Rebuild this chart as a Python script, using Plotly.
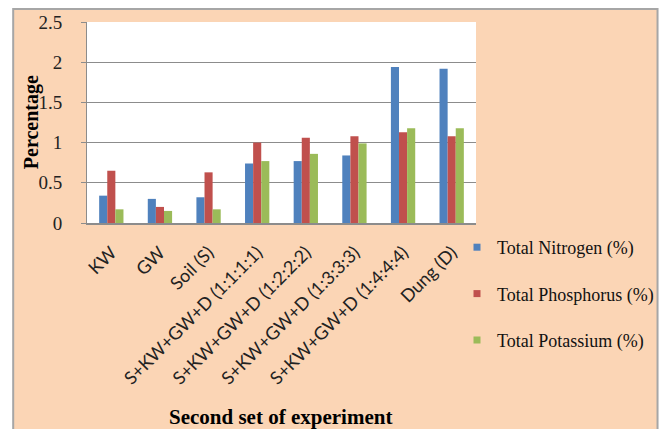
import plotly.graph_objects as go

categories = ["KW", "GW", "Soil (S)", "S+KW+GW+D (1:1:1:1)", "S+KW+GW+D (1:2:2:2)",
              "S+KW+GW+D (1:3:3:3)", "S+KW+GW+D (1:4:4:4)", "Dung (D)"]
nitrogen = [0.34, 0.30, 0.32, 0.74, 0.77, 0.84, 1.94, 1.92]
phosphorus = [0.65, 0.20, 0.63, 1.00, 1.06, 1.08, 1.13, 1.08]
potassium = [0.17, 0.15, 0.17, 0.77, 0.86, 0.99, 1.18, 1.18]
series_names = ["Total Nitrogen (%)", "Total Phosphorus (%)", "Total Potassium (%)"]
colors = ["#4F81BD", "#C0504D", "#9BBB59"]
y_ticks = [0, 0.5, 1, 1.5, 2, 2.5]
y_ticktext = ["0", "0.5", "1", "1.5", "2", "2.5"]

W, H = 670, 429
L, R, T, B = 87, 193, 22, 206
pw, ph = W - L - R, H - T - B

def px(x):
    return (x - L) / pw

def py(y):
    return (H - B - y) / ph

fig = go.Figure()
for name, vals, c in zip(series_names, [nitrogen, phosphorus, potassium], colors):
    fig.add_trace(go.Bar(x=categories, y=vals, name=name, marker_color=c,
                         marker_line_width=0, showlegend=False))
# legend entries with small square symbols
for name, c in zip(series_names, colors):
    fig.add_trace(go.Scatter(x=[None], y=[None], mode="markers", name=name,
                             marker=dict(symbol="square", size=7, color=c),
                             legendgroup=name, showlegend=True))

serif = "Liberation Serif"
fig.update_layout(
    width=W, height=H,
    margin=dict(l=L, r=R, t=T, b=B),
    paper_bgcolor="white",
    plot_bgcolor="white",
    barmode="group", bargap=0.5, bargroupgap=0,
    font=dict(family=serif, color="black"),
    showlegend=True,
    legend=dict(x=px(457), y=py(229), xanchor="left", yanchor="top",
                bgcolor="rgba(0,0,0,0)", font=dict(family=serif, size=18, color="#111"),
                tracegroupgap=20, itemclick=False),
    shapes=[
        dict(type="rect", xref="paper", yref="paper", x0=px(13), x1=px(659),
             y0=py(440), y1=py(9), fillcolor="#FBD5B5",
             line=dict(color="#A6A6A6", width=2), layer="below"),
        dict(type="rect", xref="paper", yref="paper", x0=0, x1=1, y0=0, y1=1,
             fillcolor="white", line=dict(width=0), layer="below"),
    ],
    annotations=[
        dict(text="<b>Percentage</b>", xref="paper", yref="paper", x=px(32), y=py(122),
             textangle=-90, showarrow=False, font=dict(family=serif, size=20, color="black"),
             xanchor="center", yanchor="middle"),
        dict(text="<b>Second set of experiment</b>", xref="paper", yref="paper",
             x=px(281), y=py(417), showarrow=False,
             font=dict(family=serif, size=21, color="black"),
             xanchor="center", yanchor="middle"),
    ],
)
fig.update_yaxes(range=[0, 2.5], tickvals=y_ticks, ticktext=y_ticktext,
                 showgrid=True, gridcolor="#8C8C8C", gridwidth=1,
                 showline=True, linecolor="#8C8C8C", linewidth=1,
                 ticks="outside", ticklen=5, tickcolor="#8C8C8C",
                 ticklabelstandoff=15,
                 tickfont=dict(family=serif, size=19, color="#222"),
                 zeroline=False, fixedrange=True)
fig.update_xaxes(showline=True, linecolor="#8C8C8C", linewidth=2,
                 tickangle=-45, ticks="", ticklabelstandoff=10,
                 tickfont=dict(family="Lato", size=18, color="#222"),
                 fixedrange=True)

fig.write_html("out.html")
